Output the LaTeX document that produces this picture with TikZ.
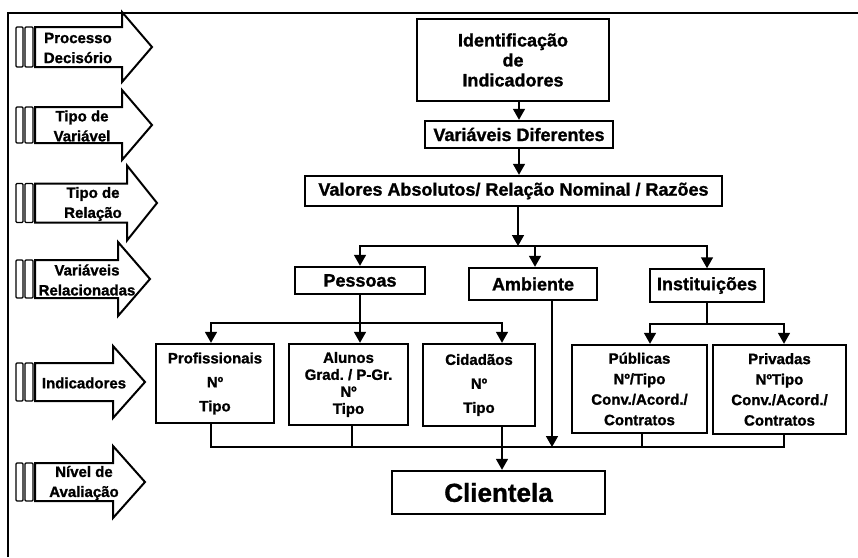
\documentclass[tikz,border=0pt]{standalone}
\usepackage{fontspec}
\setmainfont{Liberation Sans}[BoldFeatures={FakeBold=1.2}]
\usetikzlibrary{arrows.meta}

% block arrow on the left margin with its two small bars
% #1 name, #2 centre y, #3 shaft half-height, #4 head start x,
% #5 tip x, #6 head half-height, #7 text centre x, #8 text
\newcommand\sidearrow[8]{%
  \draw[line width=1.3pt, rounded corners=1pt]
    (16,#2-#3) rectangle (23,#2+#3)
    (25,#2-#3) rectangle (33,#2+#3);
  \draw[line width=2pt, line join=miter]
    (35,#2-#3) -- (#4,#2-#3) -- (#4,#2-#6) -- (#5,#2)
    -- (#4,#2+#6) -- (#4,#2+#3) -- (35,#2+#3) -- cycle;
  \node[sidetext] (#1) at (#7,#2+1) {#8};
}

\begin{document}
\frenchspacing
\begin{tikzpicture}[x=1pt,y=-1pt,
  box/.style={draw, line width=2.4pt, inner sep=0pt, align=center,
    font=\bfseries\fontsize{18}{20}\selectfont},
  smallbox/.style={box, font=\bfseries\fontsize{15}{24}\selectfont},
  conn/.style={line width=1.6pt, line cap=rect},
  arr/.style={conn, -{Triangle[length=11pt,width=12pt]}},
  sidetext/.style={align=center, inner sep=0pt,
    font=\bfseries\fontsize{15}{20}\selectfont},
]
\useasboundingbox (0,0) rectangle (858,557);

% frame
\draw[line width=1.6pt] (8,557) -- (8,13) -- (858,13);

% left column of block arrows
\sidearrow{s1}{47}{20}{122}{152}{35}{78}{Processo\\Decisório}
\sidearrow{s2}{125}{18}{122}{152}{35}{82}{Tipo de\\Variável}
\sidearrow{s3}{203}{19.5}{127}{157}{37.5}{93}{Tipo de\\Relação}
\sidearrow{s4}{279}{19}{118}{150}{37}{87}{Variáveis\\Relacionadas}
\sidearrow{s5}{382}{19}{113}{145}{36}{84}{Indicadores}
\sidearrow{s6}{482}{19}{113}{145}{36}{84}{Nível de\\Avaliação}

% main chain
\node[box, minimum width=192pt, minimum height=82pt] (ident) at (513,60)
  {Identificação\\de\\Indicadores};
\node[box, minimum width=188pt, minimum height=27pt] (vardif) at (519,134.5)
  {Variáveis Diferentes};
\node[box, minimum width=417pt, minimum height=30pt] (valores) at (513.5,191)
  {Valores Absolutos/ Relação Nominal / Razões};

\node[box, minimum width=130pt, minimum height=27pt] (pessoas) at (360,280.5) {Pessoas};
\node[box, minimum width=128pt, minimum height=32pt] (ambiente) at (533,284) {Ambiente};
\node[box, line width=1.5pt, minimum width=114pt, minimum height=33pt] (instit) at (707,285.5) {Instituições};

\node[smallbox, minimum width=118pt, minimum height=79pt] (profis) at (215,383.5)
  {Profissionais\\Nº\\Tipo};
\node[smallbox, font=\bfseries\fontsize{15}{17}\selectfont,
  minimum width=119pt, minimum height=81pt] (alunos) at (348.5,384.5)
  {Alunos\\Grad. / P-Gr.\\Nº\\Tipo};
\node[smallbox, minimum width=112pt, minimum height=82pt] (cidad) at (479,385)
  {Cidadãos\\Nº\\Tipo};
\node[smallbox, font=\bfseries\fontsize{15}{20.5}\selectfont,
  minimum width=135pt, minimum height=88pt] (publicas) at (639.5,389)
  {Públicas\\Nº/Tipo\\Conv./Acord./\\Contratos};
\node[smallbox, font=\bfseries\fontsize{15}{20.5}\selectfont,
  minimum width=133pt, minimum height=89pt] (privadas) at (779.5,389.5)
  {Privadas\\NºTipo\\Conv./Acord./\\Contratos};

\node[box, font=\bfseries\fontsize{26}{28}\selectfont,
  minimum width=213pt, minimum height=43pt] (clientela) at (498.5,492.5) {Clientela};

% connectors down the chain
\draw[arr] (vardif.north |- ident.south) -- (vardif.north);
\draw[arr] (vardif.south) -- (vardif.south |- valores.north);

% split into the three groups
\coordinate (b1) at (518,246);
\draw[arr] (valores.south -| b1) -- (b1);
\draw[conn] (pessoas.north |- b1) -- (instit.north |- b1);
\draw[arr] (pessoas.north |- b1) -- (pessoas.north);
\coordinate (ambin) at (535,246);
\draw[arr] (ambin) -- (ambin |- ambiente.north);
\draw[arr] (instit.north |- b1) -- (instit.north);

% people
\coordinate (p1) at (211,323);
\coordinate (p2) at (502,323);
\draw[conn] (pessoas.south) -- (pessoas.south |- p1);
\draw[conn] (p1) -- (p2);
\draw[arr] (p1) -- (p1 |- profis.north);
\draw[arr] (pessoas.south |- p1) -- (pessoas.south |- alunos.north);
\draw[arr] (p2) -- (p2 |- cidad.north);

% institutions
\coordinate (i1) at (650,324);
\coordinate (i2) at (784,324);
\draw[conn] (instit.south) -- (instit.south |- i1);
\draw[conn] (i1) -- (i2);
\draw[arr] (i1) -- (i1 |- publicas.north);
\draw[arr] (i2) -- (i2 |- privadas.north);

% collecting bus towards the clientele
\coordinate (q1) at (211,447);
\coordinate (q2) at (784,447);
\coordinate (q3) at (352,447);
\coordinate (q4) at (642,447);
\coordinate (amb) at (552,447);
\draw[conn] (q1 |- profis.south) -- (q1) -- (q2) -- (q2 |- privadas.south);
\draw[conn] (q3 |- alunos.south) -- (q3);
\draw[conn] (q4 |- publicas.south) -- (q4);
\draw[arr] (amb |- ambiente.south) -- (amb);
\draw[arr] (p2 |- cidad.south) -- (p2 |- clientela.north);

\end{tikzpicture}
\end{document}
